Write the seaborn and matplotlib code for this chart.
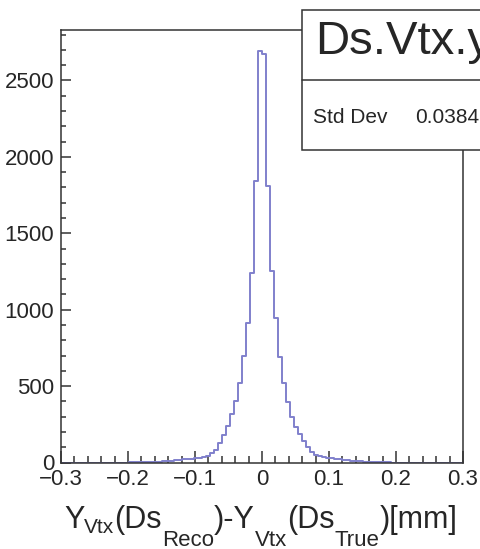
import numpy as np
import pandas as pd
import matplotlib
matplotlib.use("Agg")
import matplotlib.pyplot as plt
import seaborn as sns
from matplotlib.patches import Rectangle
from matplotlib.lines import Line2D
from matplotlib.ticker import MultipleLocator, FixedLocator, FixedFormatter

# histogram: 100 bins from -0.3 to 0.3, counts
x_min, x_max, n_bins = -0.3, 0.3, 100
left_counts = [2690, 1840, 1240, 910, 700, 520, 400, 320, 240, 180, 125, 85, 60,
               45, 36, 30, 27, 24, 22, 20, 18, 15, 12, 9, 7, 5, 4, 3, 2, 2, 1, 1, 1]
right_counts = [2670, 1810, 1250, 945, 693, 518, 397, 300, 235, 185, 140, 100, 70,
                50, 40, 33, 30, 27, 24, 20, 17, 15, 12, 9, 7, 5, 4, 3, 2, 2, 1, 1]

xtick_values = [-0.3, -0.2, -0.1, 0.0, 0.1, 0.2, 0.3]
xtick_labels = ["\u22120.3", "\u22120.2", "\u22120.1", "0", "0.1", "0.2", "0.3"]
ytick_values = [0, 500, 1000, 1500, 2000, 2500]
ytick_labels = ["0", "500", "1000", "1500", "2000", "2500"]

stat_title = "Ds.Vtx.y"
stat_name = "Std Dev"
stat_value = "0.0384"

# x label pieces: (text, level) 0 = normal, 1 = small drop, 2 = deep subscript
label_pieces = [("Y", 0), ("Vtx", 1), ("(Ds", 0), ("Reco", 2), (")-Y", 0),
                ("Vtx", 2), ("(Ds", 0), ("True", 2), (")[mm]", 0)]

# build the full count array
counts = np.zeros(n_bins)
mid = n_bins // 2
for i, c in enumerate(left_counts):
    counts[mid - 1 - i] = c
for i, c in enumerate(right_counts):
    counts[mid + i] = c
edges = np.linspace(x_min, x_max, n_bins + 1)
centers = 0.5 * (edges[:-1] + edges[1:])
df = pd.DataFrame({"x": centers, "count": counts})

sns.set_style("white")
plt.rcParams["font.family"] = ["Liberation Sans", "DejaVu Sans"]

W, H = 481, 549
fig = plt.figure(figsize=(W / 100, H / 100), dpi=100)
ax = fig.add_axes([61 / W, 1 - 462.5 / H, (463 - 61) / W, (462.5 - 30) / H])

sns.histplot(data=df, x="x", weights="count", bins=n_bins,
             binrange=(x_min, x_max), element="step",
             fill=False, color="#8080cc", linewidth=1.4, ax=ax)

ax.set_xlim(x_min, x_max)
ax.set_ylim(0, 2830)
ax.set_xlabel("")
ax.set_ylabel("")

ax.xaxis.set_major_locator(FixedLocator(xtick_values))
ax.xaxis.set_major_formatter(FixedFormatter(xtick_labels))
ax.xaxis.set_minor_locator(MultipleLocator(0.02))
ax.yaxis.set_major_locator(FixedLocator(ytick_values))
ax.yaxis.set_major_formatter(FixedFormatter(ytick_labels))
ax.yaxis.set_minor_locator(MultipleLocator(100))

ax.tick_params(axis="x", which="major", direction="in", length=8.5, width=1.1,
               color="#333333", labelsize=16, pad=5, bottom=True, top=False)
ax.tick_params(axis="x", which="minor", direction="in", length=5, width=1.1,
               color="#333333", bottom=True, top=False)
ax.tick_params(axis="y", which="major", direction="in", length=7, width=1.1,
               color="#333333", labelsize=16, pad=5, left=True, right=False)
ax.tick_params(axis="y", which="minor", direction="in", length=3.6, width=1.1,
               color="#333333", left=True, right=False)
for s in ax.spines.values():
    s.set_color("#333333")
    s.set_linewidth(1.1)

# stat box (runs off the right edge like the original)
box_l, box_t, box_b, box_div = 302.5, 9.5, 150, 80
fig.add_artist(Rectangle((box_l / W, 1 - box_b / H), (W + 20 - box_l) / W,
                         (box_b - box_t) / H, transform=fig.transFigure,
                         facecolor="white", edgecolor="#333333", linewidth=1.1,
                         zorder=5))
fig.add_artist(Line2D([box_l / W, 1.05], [1 - box_div / H, 1 - box_div / H],
                      transform=fig.transFigure, color="#333333", linewidth=1.1,
                      zorder=6))
fig.text(315 / W, 1 - 54 / H, stat_title, fontsize=34, va="baseline",
         ha="left", zorder=7)
fig.text(313 / W, 1 - 123 / H, stat_name, fontsize=15, va="baseline",
         ha="left", zorder=7)
fig.text(415 / W, 1 - 123 / H, stat_value, fontsize=15, va="baseline",
         ha="left", zorder=7)

# x axis title built from pieces, ROOT-style subscripts
base_y = {0: 21, 1: 16, 2: 3}
size = {0: 22, 1: 15, 2: 16}
prev = None
for txt, lvl in label_pieces:
    if prev is None:
        prev = ax.annotate(txt, xy=(64, base_y[lvl]), xycoords="figure pixels",
                           fontsize=size[lvl], va="baseline", ha="left",
                           annotation_clip=False)
    else:
        prev = ax.annotate(txt, xy=(1, base_y[lvl]),
                           xycoords=(prev, "figure pixels"),
                           fontsize=size[lvl], va="baseline", ha="left",
                           annotation_clip=False)

fig.savefig("out.png", dpi=100)
